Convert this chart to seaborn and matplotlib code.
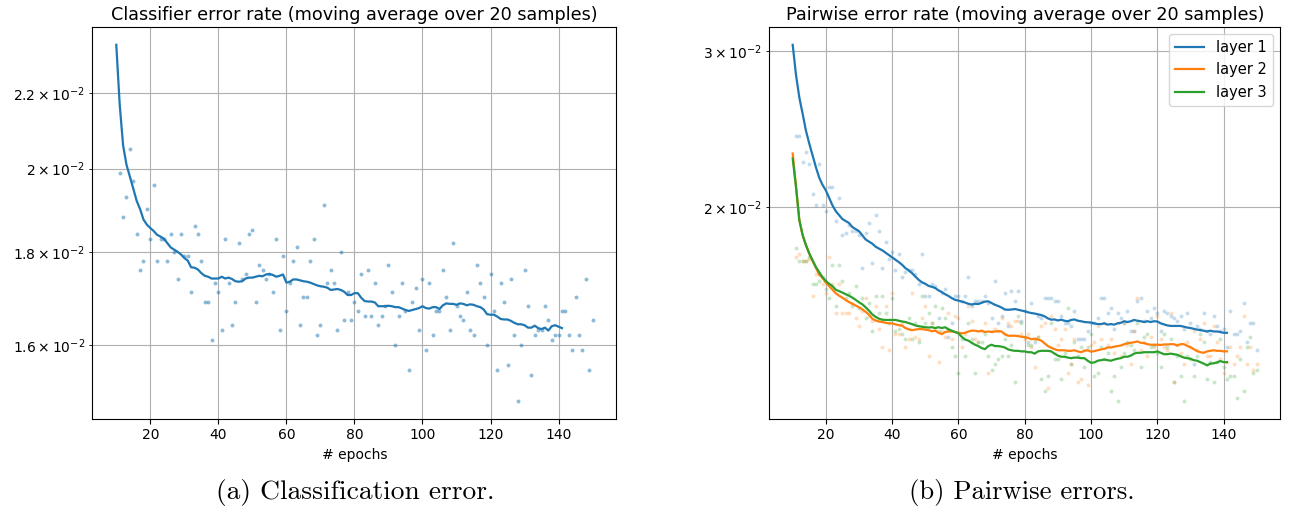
import matplotlib
matplotlib.use("Agg")
import matplotlib.pyplot as plt
import pandas as pd
import seaborn as sns

# ---------------- data ----------------
line_epochs = list(range(10, 142))    # moving-average curves
point_epochs = list(range(11, 151))   # raw samples

cls_avg = [
    0.0234, 0.0217, 0.0206, 0.0201, 0.0198, 0.0195, 0.0192, 0.0190, 0.01875, 0.01863,
    0.01855, 0.01848, 0.01839, 0.01835, 0.01830, 0.01820, 0.01810, 0.01805, 0.01800, 0.01794,
    0.01786, 0.01780, 0.01765, 0.01764, 0.01760, 0.01752, 0.01746, 0.01744, 0.01740, 0.01740,
    0.01740, 0.01744, 0.01740, 0.01742, 0.01739, 0.01734, 0.01733, 0.01734, 0.01740, 0.01742,
    0.01742, 0.01744, 0.01746, 0.01745, 0.01749, 0.01750, 0.01748, 0.01744, 0.01746, 0.01749,
    0.01731, 0.01733, 0.01738, 0.01738, 0.01736, 0.01734, 0.01733, 0.01731, 0.01728, 0.01725,
    0.01723, 0.01722, 0.01720, 0.01715, 0.01716, 0.01717, 0.01715, 0.01711, 0.01704, 0.01704,
    0.01708, 0.01708, 0.01698, 0.01691, 0.01690, 0.01690, 0.01688, 0.01680, 0.01680, 0.01680,
    0.01681, 0.01680, 0.01678, 0.01678, 0.01675, 0.01672, 0.01670, 0.01672, 0.01674, 0.01676,
    0.01680, 0.01676, 0.01675, 0.01678, 0.01678, 0.01674, 0.01682, 0.01686, 0.01685, 0.01685,
    0.01683, 0.01686, 0.01685, 0.01682, 0.01684, 0.01683, 0.01680, 0.01678, 0.01673, 0.01663,
    0.01662, 0.01662, 0.01658, 0.01653, 0.01652, 0.01652, 0.01649, 0.01645, 0.01642, 0.01642,
    0.01640, 0.01635, 0.01635, 0.01639, 0.01634, 0.01632, 0.01635, 0.01629, 0.01638, 0.01640,
    0.01637, 0.01634,
]

cls_raw = [
    0.0199, 0.0188, 0.0193, 0.0205, 0.0197, 0.0184, 0.0176, 0.0178, 0.0190, 0.0183,
    0.0196, 0.0178, 0.0183, 0.0183, 0.0178, 0.0184, 0.0180, 0.0174, 0.0184, 0.0179,
    0.0179, 0.0171, 0.0186, 0.0184, 0.0178, 0.0169, 0.0169, 0.0161, 0.0173, 0.0171,
    0.0163, 0.0183, 0.0173, 0.0164, 0.0169, 0.0182, 0.0174, 0.0175, 0.0184, 0.0185,
    0.0169, 0.0177, 0.0176, 0.0174, 0.0175, 0.0171, 0.0183, 0.0163, 0.0179, 0.0167,
    0.0173, 0.0178, 0.0181, 0.0164, 0.0170, 0.0170, 0.0178, 0.0183, 0.0162, 0.0164,
    0.0191, 0.0173, 0.0176, 0.0173, 0.0163, 0.0180, 0.0165, 0.0171, 0.0165, 0.0169,
    0.0167, 0.0175, 0.0166, 0.0176, 0.0166, 0.0173, 0.0164, 0.0166, 0.0168, 0.0177,
    0.0171, 0.0160, 0.0166, 0.0173, 0.0167, 0.0155, 0.0169, 0.0172, 0.0163, 0.0174,
    0.0159, 0.0173, 0.0162, 0.0167, 0.0167, 0.0176, 0.0170, 0.0163, 0.0182, 0.0168,
    0.0166, 0.0165, 0.0171, 0.0163, 0.0162, 0.0177, 0.0173, 0.0170, 0.0160, 0.0175,
    0.0167, 0.0155, 0.0173, 0.0169, 0.0156, 0.0174, 0.0162, 0.0149, 0.0160, 0.0176,
    0.0168, 0.0154, 0.0162, 0.0163, 0.0163, 0.0168, 0.0165, 0.0161, 0.0162, 0.0162,
    0.0167, 0.0167, 0.0162, 0.0159, 0.0170, 0.0162, 0.0159, 0.0174, 0.0155, 0.0165,
]

layer1_avg = [
    0.0305, 0.0282, 0.0266, 0.0255, 0.0244, 0.0236, 0.0229, 0.0222, 0.0216, 0.0212,
    0.0209, 0.0205, 0.0201, 0.0198, 0.0196, 0.0194, 0.0193, 0.0192, 0.0190, 0.0189,
    0.0188, 0.0186, 0.0184, 0.0183, 0.0182, 0.01806, 0.01797, 0.01789, 0.01778, 0.01767,
    0.01756, 0.01746, 0.01735, 0.01723, 0.01708, 0.01698, 0.01686, 0.01671, 0.01657, 0.01646,
    0.01640, 0.01631, 0.01627, 0.01622, 0.01612, 0.01605, 0.01596, 0.01589, 0.01580, 0.01573,
    0.01570, 0.01566, 0.01562, 0.01557, 0.01554, 0.01557, 0.01556, 0.01561, 0.01566, 0.01567,
    0.01560, 0.01553, 0.01548, 0.01542, 0.01534, 0.01533, 0.01534, 0.01536, 0.01533, 0.01530,
    0.01527, 0.01523, 0.01520, 0.01518, 0.01515, 0.01512, 0.01507, 0.01499, 0.01494, 0.01495,
    0.01491, 0.01494, 0.01490, 0.01488, 0.01493, 0.01495, 0.01490, 0.01488, 0.01485, 0.01484,
    0.01483, 0.01480, 0.01477, 0.01477, 0.01480, 0.01475, 0.01477, 0.01475, 0.01480, 0.01482,
    0.01488, 0.01485, 0.01488, 0.01493, 0.01490, 0.01488, 0.01485, 0.01488, 0.01485, 0.01488,
    0.01487, 0.01480, 0.01476, 0.01472, 0.01470, 0.01470, 0.01470, 0.01470, 0.01467, 0.01464,
    0.01462, 0.01459, 0.01456, 0.01454, 0.01452, 0.01449, 0.01452, 0.01449, 0.01449, 0.01447,
    0.01444, 0.01444,
]

layer2_avg = [
    0.0230, 0.0211, 0.01935, 0.01861, 0.01813, 0.01774, 0.01740, 0.01710, 0.01680, 0.01665,
    0.01645, 0.01630, 0.01615, 0.01600, 0.01590, 0.01582, 0.01572, 0.01564, 0.01557, 0.01550,
    0.01543, 0.01535, 0.01525, 0.01514, 0.01498, 0.01491, 0.01487, 0.01485, 0.01482, 0.01480,
    0.01480, 0.01476, 0.01473, 0.01471, 0.01462, 0.01457, 0.01454, 0.01456, 0.01458, 0.01458,
    0.01456, 0.01454, 0.01450, 0.01452, 0.01444, 0.01439, 0.01447, 0.01449, 0.01449, 0.01447,
    0.01444, 0.01442, 0.01444, 0.01449, 0.01452, 0.01452, 0.01449, 0.01452, 0.01447, 0.01449,
    0.01447, 0.01449, 0.01450, 0.01449, 0.01439, 0.01433, 0.01433, 0.01433, 0.01432, 0.01429,
    0.01428, 0.01425, 0.01420, 0.01422, 0.01419, 0.01415, 0.01405, 0.01395, 0.01389, 0.01384,
    0.01380, 0.01380, 0.01380, 0.01378, 0.01378, 0.01380, 0.01376, 0.01373, 0.01378, 0.01380,
    0.01375, 0.01377, 0.01380, 0.01383, 0.01385, 0.01390, 0.01390, 0.01393, 0.01395, 0.01397,
    0.01402, 0.01405, 0.01407, 0.01409, 0.01412, 0.01407, 0.01406, 0.01402, 0.01400, 0.01400,
    0.01400, 0.01399, 0.01401, 0.01401, 0.01402, 0.01402, 0.01397, 0.01402, 0.01402, 0.01396,
    0.01391, 0.01384, 0.01377, 0.01373, 0.01371, 0.01376, 0.01378, 0.01380, 0.01378, 0.01378,
    0.01376, 0.01376,
]

layer3_avg = [
    0.0227, 0.0211, 0.01935, 0.01861, 0.01813, 0.01774, 0.01743, 0.01713, 0.01690, 0.01668,
    0.01652, 0.01640, 0.01630, 0.01615, 0.01609, 0.01603, 0.01596, 0.01590, 0.01582, 0.01573,
    0.01563, 0.01555, 0.01543, 0.01530, 0.01515, 0.01505, 0.01498, 0.01494, 0.01493, 0.01493,
    0.01493, 0.01493, 0.01490, 0.01487, 0.01485, 0.01481, 0.01477, 0.01472, 0.01469, 0.01467,
    0.01465, 0.01464, 0.01465, 0.01462, 0.01465, 0.01462, 0.01465, 0.01457, 0.01452, 0.01447,
    0.01442, 0.01429, 0.01419, 0.01415, 0.01407, 0.01400, 0.01395, 0.01388, 0.01384, 0.01395,
    0.01400, 0.01395, 0.01395, 0.01393, 0.01390, 0.01383, 0.01380, 0.01378, 0.01378, 0.01376,
    0.01376, 0.01373, 0.01373, 0.01368, 0.01376, 0.01378, 0.01378, 0.01378, 0.01376, 0.01368,
    0.01361, 0.01357, 0.01357, 0.01354, 0.01352, 0.01354, 0.01354, 0.01352, 0.01352, 0.01343,
    0.01336, 0.01337, 0.01343, 0.01345, 0.01347, 0.01345, 0.01343, 0.01347, 0.01350, 0.01352,
    0.01357, 0.01357, 0.01361, 0.01368, 0.01371, 0.01371, 0.01373, 0.01373, 0.01373, 0.01373,
    0.01376, 0.01371, 0.01366, 0.01366, 0.01368, 0.01366, 0.01364, 0.01359, 0.01354, 0.01352,
    0.01350, 0.01345, 0.01343, 0.01338, 0.01333, 0.01327, 0.01333, 0.01334, 0.01337, 0.01342,
    0.01338, 0.01338,
]

layer1_raw = [
    0.0241, 0.0241, 0.0225, 0.0231, 0.0224, 0.0207, 0.0201, 0.0224, 0.0201, 0.0198,
    0.0211, 0.0211, 0.0193, 0.0205, 0.0186, 0.0187, 0.0191, 0.0188, 0.0188, 0.0186,
    0.0171, 0.0187, 0.0192, 0.0173, 0.0196, 0.0188, 0.0171, 0.0183, 0.0175, 0.0178,
    0.0170, 0.0177, 0.0167, 0.0169, 0.0170, 0.0170, 0.0168, 0.0164, 0.0177, 0.0159,
    0.0159, 0.0164, 0.0163, 0.0150, 0.0160, 0.0162, 0.0143, 0.0148, 0.0159, 0.0159,
    0.0157, 0.0159, 0.0167, 0.0155, 0.0157, 0.0157, 0.0157, 0.0159, 0.0156, 0.0150,
    0.0165, 0.0148, 0.0151, 0.0160, 0.0147, 0.0161, 0.0157, 0.0161, 0.0149, 0.0153,
    0.0141, 0.0156, 0.0141, 0.0151, 0.0150, 0.0158, 0.0158, 0.0158, 0.0157, 0.0157,
    0.0151, 0.0148, 0.0148, 0.0147, 0.0153, 0.0142, 0.0142, 0.0142, 0.0145, 0.0148,
    0.0148, 0.0150, 0.0158, 0.0158, 0.0152, 0.0154, 0.0146, 0.0152, 0.0150, 0.0148,
    0.0153, 0.0145, 0.0145, 0.0157, 0.0158, 0.0149, 0.0153, 0.0150, 0.0154, 0.0152,
    0.0145, 0.0153, 0.0152, 0.0151, 0.0150, 0.0149, 0.0151, 0.0146, 0.0152, 0.0148,
    0.0133, 0.0147, 0.0146, 0.0152, 0.0145, 0.0144, 0.0151, 0.0147, 0.0145, 0.0146,
    0.0139, 0.0153, 0.0144, 0.0144, 0.0145, 0.0156, 0.0141, 0.0148, 0.0148, 0.0138,
]

layer2_raw = [
    0.0176, 0.0177, 0.0174, 0.0174, 0.0175, 0.0159, 0.0168, 0.0168, 0.0164, 0.0160,
    0.0176, 0.0164, 0.0152, 0.0164, 0.0152, 0.0152, 0.0152, 0.0156, 0.0150, 0.0147,
    0.0153, 0.0158, 0.0151, 0.0149, 0.0155, 0.0146, 0.0139, 0.0155, 0.0138, 0.0160,
    0.0144, 0.0144, 0.0148, 0.0139, 0.0142, 0.0160, 0.0143, 0.0142, 0.0150, 0.0155,
    0.0136, 0.0148, 0.0146, 0.0134, 0.0145, 0.0143, 0.0152, 0.0142, 0.0151, 0.0150,
    0.0139, 0.0144, 0.0155, 0.0149, 0.0142, 0.0141, 0.0145, 0.0148, 0.0130, 0.0145,
    0.0146, 0.0145, 0.0150, 0.0144, 0.0148, 0.0147, 0.0149, 0.0149, 0.0144, 0.0142,
    0.0144, 0.0139, 0.0132, 0.0143, 0.0147, 0.0148, 0.0125, 0.0151, 0.0146, 0.0140,
    0.0142, 0.0146, 0.0130, 0.0133, 0.0142, 0.0127, 0.0128, 0.0138, 0.0126, 0.0140,
    0.0141, 0.0147, 0.0142, 0.0148, 0.0140, 0.0142, 0.0137, 0.0148, 0.0136, 0.0148,
    0.0140, 0.0133, 0.0145, 0.0158, 0.0138, 0.0141, 0.0136, 0.0143, 0.0139, 0.0151,
    0.0142, 0.0139, 0.0138, 0.0152, 0.0127, 0.0140, 0.0137, 0.0133, 0.0141, 0.0139,
    0.0145, 0.0138, 0.0142, 0.0148, 0.0136, 0.0136, 0.0147, 0.0141, 0.0135, 0.0130,
    0.0134, 0.0139, 0.0133, 0.0136, 0.0139, 0.0151, 0.0133, 0.0139, 0.0131, 0.0133,
]

layer3_raw = [
    0.0180, 0.0174, 0.0174, 0.0174, 0.0176, 0.0164, 0.0164, 0.0165, 0.0167, 0.0162,
    0.0158, 0.0172, 0.0155, 0.0172, 0.0165, 0.0158, 0.0160, 0.0155, 0.0163, 0.0154,
    0.0158, 0.0150, 0.0156, 0.0145, 0.0159, 0.0152, 0.0159, 0.0152, 0.0148, 0.0158,
    0.0145, 0.0146, 0.0144, 0.0142, 0.0150, 0.0142, 0.0148, 0.0141, 0.0159, 0.0148,
    0.0152, 0.0148, 0.0155, 0.0145, 0.0154, 0.0150, 0.0146, 0.0139, 0.0136, 0.0130,
    0.0142, 0.0136, 0.0148, 0.0142, 0.0130, 0.0141, 0.0141, 0.0144, 0.0136, 0.0131,
    0.0133, 0.0135, 0.0136, 0.0142, 0.0136, 0.0140, 0.0127, 0.0151, 0.0148, 0.0143,
    0.0140, 0.0140, 0.0142, 0.0143, 0.0128, 0.0124, 0.0129, 0.0148, 0.0135, 0.0135,
    0.0128, 0.0137, 0.0154, 0.0133, 0.0141, 0.0136, 0.0139, 0.0132, 0.0139, 0.0144,
    0.0129, 0.0130, 0.0139, 0.0135, 0.0137, 0.0124, 0.0129, 0.0121, 0.0132, 0.0137,
    0.0141, 0.0140, 0.0138, 0.0148, 0.0132, 0.0143, 0.0144, 0.0139, 0.0140, 0.0137,
    0.0132, 0.0144, 0.0139, 0.0142, 0.0127, 0.0136, 0.0129, 0.0121, 0.0136, 0.0135,
    0.0129, 0.0136, 0.0144, 0.0141, 0.0128, 0.0134, 0.0127, 0.0134, 0.0142, 0.0132,
    0.0128, 0.0129, 0.0129, 0.0122, 0.0135, 0.0124, 0.0139, 0.0143, 0.0130, 0.0131,
]

layer_names = ["layer 1", "layer 2", "layer 3"]
layer_avgs = [layer1_avg, layer2_avg, layer3_avg]
layer_raws = [layer1_raw, layer2_raw, layer3_raw]
colors = ["#1f77b4", "#ff7f0e", "#2ca02c"]

left_title = "Classifier error rate (moving average over 20 samples)"
right_title = "Pairwise error rate (moving average over 20 samples)"
x_label = "# epochs"
captions = ["(a) Classification error.", "(b) Pairwise errors."]

# ---------------- figure ----------------
fig = plt.figure(figsize=(12.95, 5.13), dpi=100)
ax1 = fig.add_axes([0.0714, 0.1838, 0.4046, 0.7636])
ax2 = fig.add_axes([0.5942, 0.1838, 0.3942, 0.7636])

# left panel
sns.scatterplot(x=point_epochs, y=cls_raw, ax=ax1, color=colors[0], alpha=0.5,
                s=8, linewidth=0, legend=False)
sns.lineplot(x=line_epochs, y=cls_avg, ax=ax1, color=colors[0], linewidth=1.6)
ax1.set_yscale("log")

# right panel
for name, avg, raw, c in zip(layer_names, layer_avgs, layer_raws, colors):
    sns.scatterplot(x=point_epochs, y=raw, ax=ax2, color=c, alpha=0.25,
                    s=8, linewidth=0, legend=False)
for name, avg, raw, c in zip(layer_names, layer_avgs, layer_raws, colors):
    sns.lineplot(x=line_epochs, y=avg, ax=ax2, color=c, linewidth=1.6, label=name)
ax2.set_yscale("log")
ax2.legend(loc="upper right", fontsize=10.5)

for ax, title in zip([ax1, ax2], [left_title, right_title]):
    ax.set_title(title, fontsize=12.7, pad=5)
    ax.set_xlabel(x_label, fontsize=10)
    ax.set_ylabel("")
    ax.grid(True, which="both", color="#b0b0b0", linewidth=0.8)
    ax.set_axisbelow(True)
    ax.tick_params(labelsize=10)
    ax.tick_params(which="minor", labelsize=10)

fig.text(0.274, 0.039, captions[0], ha="center", va="center",
         fontfamily="cmr10", fontsize=19.8)
fig.text(0.789, 0.039, captions[1], ha="center", va="center",
         fontfamily="cmr10", fontsize=19.2)

fig.savefig("out.png", dpi=100)
